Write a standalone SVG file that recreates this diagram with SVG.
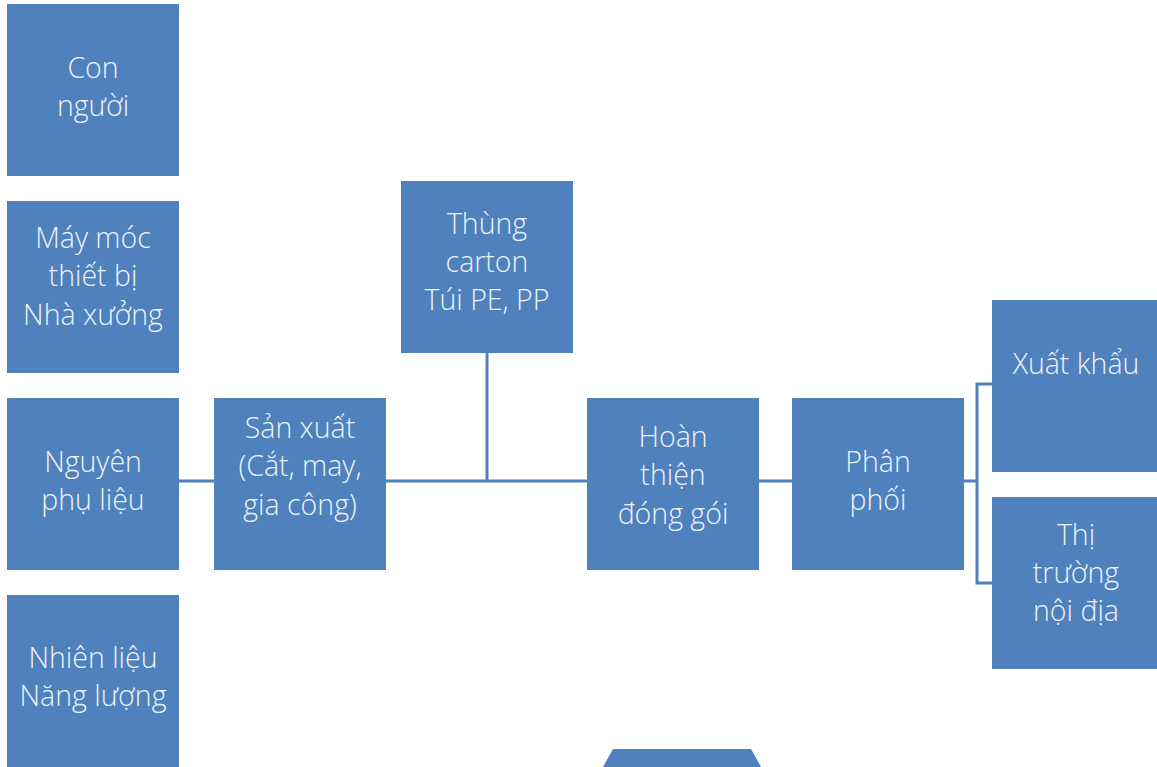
<svg xmlns="http://www.w3.org/2000/svg" width="1157" height="767" viewBox="0 0 1157 767">
<style>
.n{fill:#4F81BD}
.t{font-family:"Open Sans","Noto Sans",sans-serif;font-weight:300;font-size:28.5px;fill:#EEF2F8;text-anchor:middle}
.c{stroke:#4F81BD;stroke-width:3;fill:none}
</style>
<rect width="1157" height="767" fill="#FFFFFF"/>
<g id="connectors">
<path class="c" d="M179 481H214"/>
<path class="c" d="M386 481H587"/>
<path class="c" d="M487 353V481"/>
<path class="c" d="M759 481H792"/>
<path class="c" d="M964 481H977"/>
<path class="c" d="M992 384H977V583H992"/>
</g>
<g id="con-nguoi"><rect class="n" x="7" y="4" width="172" height="172"/><text class="t" x="93"><tspan y="78">Con</tspan><tspan x="93" y="116">người</tspan></text></g>
<g id="may-moc"><rect class="n" x="7" y="201" width="172" height="172"/><text class="t" x="93"><tspan y="248">Máy móc</tspan><tspan x="93" y="286">thiết bị</tspan><tspan x="93" y="325">Nhà xưởng</tspan></text></g>
<g id="nguyen-phu-lieu"><rect class="n" x="7" y="398" width="172" height="172"/><text class="t" x="93"><tspan y="472">Nguyên</tspan><tspan x="93" y="510">phụ liệu</tspan></text></g>
<g id="nhien-lieu"><rect class="n" x="7" y="595" width="172" height="172"/><text class="t" x="93"><tspan y="668">Nhiên liệu</tspan><tspan x="93" y="706">Năng lượng</tspan></text></g>
<g id="san-xuat"><rect class="n" x="214" y="398" width="172" height="172"/><text class="t" x="300"><tspan y="438">Sản xuất</tspan><tspan x="300" y="476">(Cắt, may,</tspan><tspan x="300" y="515">gia công)</tspan></text></g>
<g id="thung-carton"><rect class="n" x="401" y="181" width="172" height="172"/><text class="t" x="487"><tspan y="234">Thùng</tspan><tspan x="487" y="272">carton</tspan><tspan x="487" y="310">Túi PE, PP</tspan></text></g>
<g id="hoan-thien"><rect class="n" x="587" y="398" width="172" height="172"/><text class="t" x="673"><tspan y="447">Hoàn</tspan><tspan x="673" y="485">thiện</tspan><tspan x="673" y="524">đóng gói</tspan></text></g>
<g id="phan-phoi"><rect class="n" x="792" y="398" width="172" height="172"/><text class="t" x="878"><tspan y="472">Phân</tspan><tspan x="878" y="510">phối</tspan></text></g>
<g id="xuat-khau"><rect class="n" x="992" y="300" width="172" height="172"/><text class="t" x="1076" y="374">Xuất khẩu</text></g>
<g id="thi-truong"><rect class="n" x="992" y="497" width="172" height="172"/><text class="t" x="1076"><tspan y="545">Thị</tspan><tspan x="1076" y="583">trường</tspan><tspan x="1076" y="621">nội địa</tspan></text></g>
<g id="bottom-shape"><polygon class="n" points="613,749 751,749 761,767 603,767"/></g>
</svg>
